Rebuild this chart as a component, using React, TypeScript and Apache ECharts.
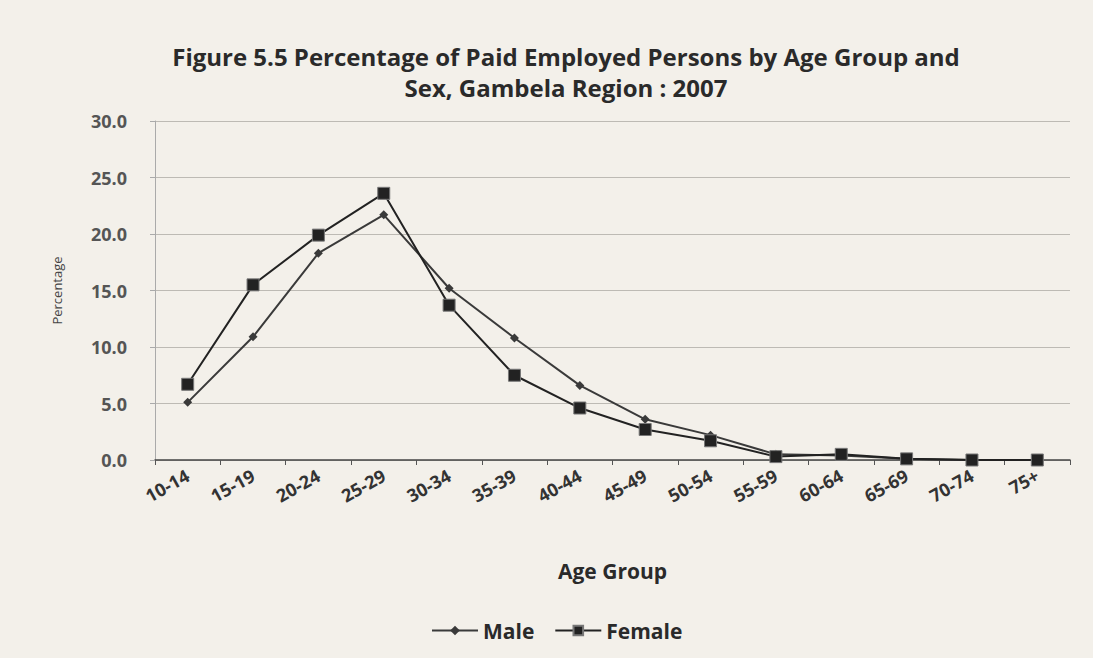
import React, { useEffect, useRef } from "react";
import * as echarts from "echarts";

const ageGroups = ["10-14", "15-19", "20-24", "25-29", "30-34", "35-39", "40-44", "45-49", "50-54", "55-59", "60-64", "65-69", "70-74", "75+"];
const maleValues = [5.1, 10.9, 18.3, 21.7, 15.2, 10.8, 6.6, 3.6, 2.2, 0.5, 0.4, 0.1, 0.0, 0.0];
const femaleValues = [6.7, 15.5, 19.9, 23.6, 13.7, 7.5, 4.6, 2.7, 1.7, 0.3, 0.5, 0.1, 0.0, 0.0];
const yTicks = { min: 0, max: 30, interval: 5 };

const FONT = "'Open Sans', Lato, sans-serif";

export default function App() {
  const ref = useRef<HTMLDivElement>(null);
  useEffect(() => {
    if (!ref.current) return;
    const chart = echarts.init(ref.current, undefined, { renderer: "svg" });
    chart.setOption({
      animation: false,
      backgroundColor: "#f3f0ea",
      textStyle: { fontFamily: FONT },
      title: {
        text: "Figure 5.5 Percentage of Paid Employed Persons by Age Group and\nSex, Gambela Region : 2007",
        left: 561,
        textAlign: "center",
        top: 36,
        textStyle: { fontFamily: FONT, fontSize: 24, fontWeight: "bold", color: "#2a2a2a", lineHeight: 31 },
      },
      legend: {
        bottom: 12,
        left: 426,
        itemWidth: 46,
        itemHeight: 12,
        itemGap: 20,
        textStyle: { fontFamily: FONT, fontSize: 21, fontWeight: "bold", color: "#2a2a2a" },
        data: ["Male", "Female"],
      },
      grid: { left: 155, right: 23, top: 121, bottom: 198, containLabel: false },
      xAxis: {
        type: "category",
        data: ageGroups,
        boundaryGap: true,
        name: "Age Group",
        nameLocation: "middle",
        nameGap: 100,
        nameTextStyle: { fontFamily: FONT, fontSize: 21, fontWeight: "bold", color: "#2a2a2a" },
        axisLine: { lineStyle: { color: "#444", width: 1.5 } },
        axisTick: { show: true, lineStyle: { color: "#555" }, length: 5 },
        axisLabel: { rotate: 29, margin: 14, fontSize: 18, fontWeight: "bold", color: "#333", fontFamily: FONT },
      },
      yAxis: {
        type: "value",
        min: yTicks.min,
        max: yTicks.max,
        interval: yTicks.interval,
        name: "Percentage",
        nameLocation: "middle",
        nameGap: 92,
        nameTextStyle: { fontFamily: FONT, fontSize: 13, color: "#444" },
        axisLine: { show: true, lineStyle: { color: "#aaa" } },
        axisTick: { show: true, lineStyle: { color: "#aaa" }, length: 5 },
        axisLabel: { fontSize: 18, fontWeight: "bold", color: "#555", margin: 28, fontFamily: FONT, formatter: (v: number) => v.toFixed(1) },
        splitLine: { show: true, lineStyle: { color: "#bdbab4", width: 1.2 } },
      },
      series: [
        {
          name: "Male",
          type: "line",
          data: maleValues,
          symbol: "diamond",
          symbolSize: 9,
          lineStyle: { color: "#3a3a3a", width: 2 },
          itemStyle: { color: "#3a3a3a" },
        },
        {
          name: "Female",
          type: "line",
          data: femaleValues,
          symbol: "rect",
          symbolSize: 12,
          lineStyle: { color: "#222", width: 2 },
          itemStyle: { color: "#222", borderColor: "#777", borderWidth: 1 },
        },
      ],
    });
    return () => chart.dispose();
  }, []);
  return <div ref={ref} style={{ position: "absolute", left: 0, top: 0, width: 1093, height: 658 }} />;
}
